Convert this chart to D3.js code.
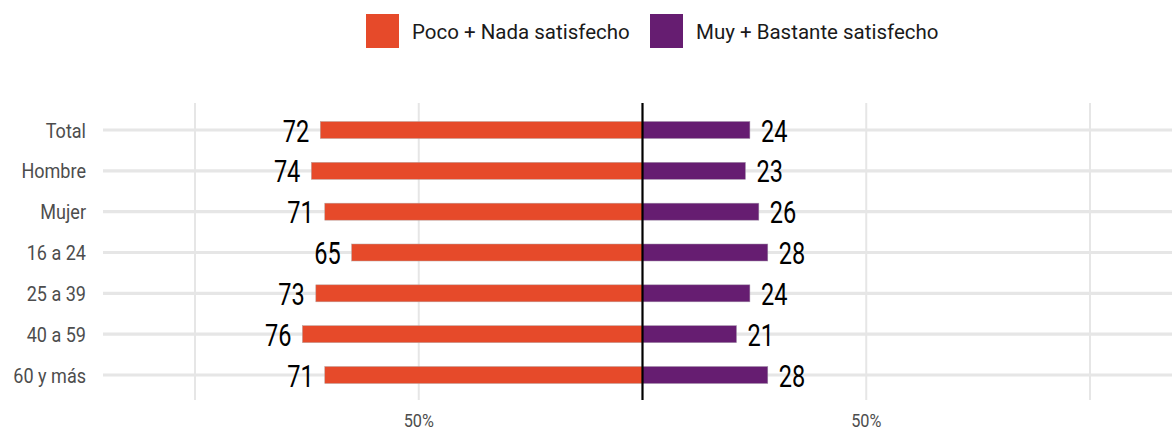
<!DOCTYPE html>
<html>
<head>
<meta charset="utf-8">
<script src="https://cdn.jsdelivr.net/npm/d3@7"></script>
<style>
  body { margin: 0; background: #fff; }
  text { font-family: Roboto, sans-serif; }
</style>
</head>
<body>
<svg id="chart"></svg>
<script>
(function() {

// data
var categories = ["Total", "Hombre", "Mujer", "16 a 24", "25 a 39", "40 a 59", "60 y más"];
var poco = [72, 74, 71, 65, 73, 76, 71];
var muy = [24, 23, 26, 28, 24, 21, 28];
var seriesNames = ["Poco + Nada satisfecho", "Muy + Bastante satisfecho"];
var colors = ["#e64a2a", "#661d71"];
var xTicks = [-100, -50, 0, 50, 100];

var width = 1172, height = 431;
var panel = {left: 103, right: 1172, top: 103, bottom: 400};

var svg = d3.select("#chart")
    .attr("width", width)
    .attr("height", height);

var x = d3.scaleLinear()
  .domain([-100, 100])
  .range([195, 1090]);

var y = d3.scalePoint()
  .domain(categories)
  .range([130, 375]);

var rows = categories.map(function(c, i) { return {cat: c, poco: poco[i], muy: muy[i]}; });

// grid
var g = svg.append("g");

g.selectAll(".hgrid")
  .data(categories)
  .enter().append("line")
    .attr("x1", panel.left).attr("x2", panel.right)
    .attr("y1", function(d) { return y(d); })
    .attr("y2", function(d) { return y(d); })
    .attr("stroke", "#e6e6e6")
    .attr("stroke-width", 3.2);

g.selectAll(".vgrid")
  .data(xTicks.filter(function(d) { return d !== 0; }))
  .enter().append("line")
    .attr("x1", function(d) { return x(d); })
    .attr("x2", function(d) { return x(d); })
    .attr("y1", panel.top).attr("y2", panel.bottom)
    .attr("stroke", "#e6e6e6")
    .attr("stroke-width", 2);

var barH = 17;

// left bars
g.selectAll(".bar-left")
  .data(rows)
  .enter().append("rect")
    .attr("x", function(d) { return x(-d.poco); })
    .attr("width", function(d) { return x(0) - x(-d.poco); })
    .attr("y", function(d) { return y(d.cat) - barH / 2; })
    .attr("height", barH)
    .attr("fill", colors[0])
    .attr("stroke", "#b8a09a")
    .attr("stroke-width", 0.5);

// right bars
g.selectAll(".bar-right")
  .data(rows)
  .enter().append("rect")
    .attr("x", x(0))
    .attr("width", function(d) { return x(d.muy) - x(0); })
    .attr("y", function(d) { return y(d.cat) - barH / 2; })
    .attr("height", barH)
    .attr("fill", colors[1])
    .attr("stroke", "#a090a8")
    .attr("stroke-width", 0.5);

// zero line
g.append("line")
  .attr("x1", x(0)).attr("x2", x(0))
  .attr("y1", panel.top).attr("y2", panel.bottom)
  .attr("stroke", "#000")
  .attr("stroke-width", 2.2);

// value labels
var vs = 0.76;
g.selectAll(".lab-left")
  .data(rows)
  .enter().append("text")
    .attr("transform", function(d) { return "translate(" + (x(-d.poco) - 11) + "," + (y(d.cat) + 11.5) + ") scale(" + vs + ",1)"; })
    .attr("text-anchor", "end")
    .attr("font-size", 31)
    .attr("fill", "#000")
    .text(function(d) { return d.poco; });

g.selectAll(".lab-right")
  .data(rows)
  .enter().append("text")
    .attr("transform", function(d) { return "translate(" + (x(d.muy) + 11) + "," + (y(d.cat) + 11.5) + ") scale(" + vs + ",1)"; })
    .attr("text-anchor", "start")
    .attr("font-size", 31)
    .attr("fill", "#000")
    .text(function(d) { return d.muy; });

// y axis labels
g.selectAll(".ylab")
  .data(categories)
  .enter().append("text")
    .attr("transform", function(d) { return "translate(86," + (y(d) + 7.5) + ") scale(0.88,1)"; })
    .attr("text-anchor", "end")
    .attr("font-size", 20.5)
    .attr("fill", "#4d4d4d")
    .text(function(d) { return d; });

// x axis labels
g.selectAll(".xlab")
  .data([-50, 50])
  .enter().append("text")
    .attr("transform", function(d) { return "translate(" + x(d) + ",427) scale(0.88,1)"; })
    .attr("text-anchor", "middle")
    .attr("font-size", 18.5)
    .attr("fill", "#4d4d4d")
    .text(function(d) { return Math.abs(d) + "%"; });

// legend
var legX = [366, 650];
var leg = svg.selectAll(".legend")
  .data(seriesNames)
  .enter().append("g")
    .attr("transform", function(d, i) { return "translate(" + legX[i] + ",14)"; });

leg.append("rect")
  .attr("width", 33).attr("height", 34)
  .attr("fill", function(d, i) { return colors[i]; });

leg.append("text")
  .attr("transform", "translate(46,24.5)")
  .attr("font-size", 20.5)
  .attr("fill", "#1a1a1a")
  .text(function(d) { return d; });

})();
</script>
</body>
</html>
